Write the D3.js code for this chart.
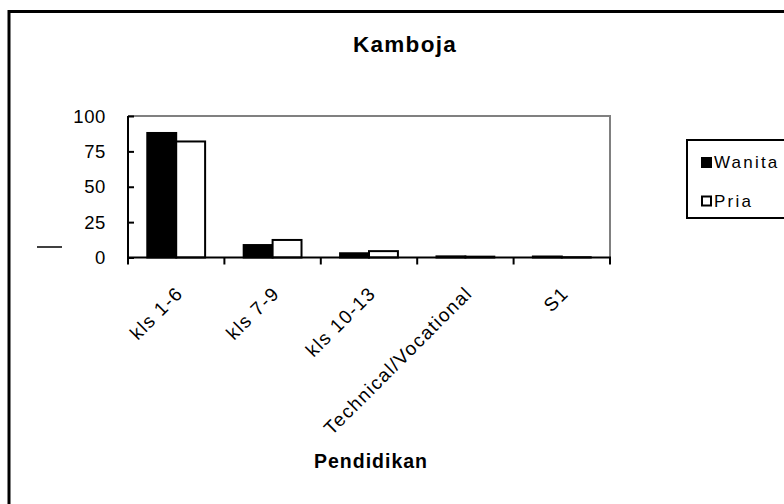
<!DOCTYPE html>
<html>
<head>
<meta charset="utf-8">
<script src="https://cdn.jsdelivr.net/npm/d3@7"></script>
<style>
  body { margin: 0; background: #fff; }
  svg { display: block; font-family: "Liberation Sans", Arial, sans-serif; }
</style>
</head>
<body>
<div id="chart"></div>
<script>
const categories = ["kls 1-6", "kls 7-9", "kls 10-13", "Technical/Vocational", "S1"];
const seriesNames = ["Wanita", "Pria"];
const wanita = [88, 8.8, 3, 0.8, 0.7];
const pria = [82, 12.4, 4.5, 0.6, 0.2];
const yTicks = [0, 25, 50, 75, 100];

const width = 784, height = 504;
const plot = {left: 128, right: 610, top: 116, bottom: 257.5};

const svg = d3.select("#chart").append("svg")
  .attr("width", width)
  .attr("height", height);

// outer frame (runs off the right and bottom edges)
svg.append("rect")
  .attr("x", 9).attr("y", 11.5)
  .attr("width", 900).attr("height", 600)
  .attr("fill", "#fff")
  .attr("stroke", "#000")
  .attr("stroke-width", 3);

const x0 = d3.scaleBand().domain(categories).range([plot.left, plot.right]).padding(0);
const x1 = d3.scaleBand().domain(seriesNames).range([0, x0.bandwidth()])
  .paddingInner(0).paddingOuter(0.667);
const y = d3.scaleLinear().domain([0, 100]).range([plot.bottom, plot.top]);

const rows = categories.map((c, i) => ({cat: c, values: [wanita[i], pria[i]]}));
const fills = {Wanita: "#000", Pria: "#fff"};

// plot frame top/right in gray
svg.append("path")
  .attr("d", `M${plot.left},${plot.top}H${plot.right}V${plot.bottom}`)
  .attr("fill", "none")
  .attr("stroke", "#808080")
  .attr("stroke-width", 2);

// bars
const g = svg.append("g");
g.selectAll("g.cat")
  .data(rows)
  .join("g")
  .attr("class", "cat")
  .attr("transform", d => `translate(${x0(d.cat)},0)`)
  .selectAll("rect")
  .data(d => d.values.map((v, i) => ({name: seriesNames[i], value: v})))
  .join("rect")
  .attr("x", d => x1(d.name))
  .attr("width", x1.bandwidth())
  .attr("y", d => y(d.value))
  .attr("height", d => y(0) - y(d.value))
  .attr("fill", d => fills[d.name])
  .attr("stroke", "#000")
  .attr("stroke-width", 2);

// y axis (ticks point inward)
const yAxis = svg.append("g")
  .attr("transform", `translate(${plot.left},0)`)
  .call(d3.axisRight(y).tickValues(yTicks).tickSize(6).tickFormat(""));
yAxis.select(".domain").attr("stroke-width", 2).attr("d", `M0,${plot.top}V${plot.bottom}`);
yAxis.selectAll(".tick line").attr("stroke-width", 2);

svg.append("g").selectAll("text")
  .data(yTicks)
  .join("text")
  .attr("x", 106)
  .attr("y", d => y(d))
  .attr("dy", "0.36em")
  .attr("text-anchor", "end")
  .attr("font-size", 18.5)
  .attr("letter-spacing", 0.6)
  .text(d => d);

// x axis (ticks outward at band edges)
const xEdges = categories.map(c => x0(c)).concat([plot.right]);
const xAxisG = svg.append("g");
xAxisG.append("line")
  .attr("x1", plot.left - 1).attr("x2", plot.right + 1)
  .attr("y1", plot.bottom).attr("y2", plot.bottom)
  .attr("stroke", "#000").attr("stroke-width", 2);
xAxisG.selectAll("line.tick")
  .data(xEdges)
  .join("line")
  .attr("class", "tick")
  .attr("x1", d => d).attr("x2", d => d)
  .attr("y1", plot.bottom).attr("y2", plot.bottom + 7)
  .attr("stroke", "#000").attr("stroke-width", 2);

xAxisG.selectAll("text")
  .data(categories)
  .join("text")
  .attr("transform", d => `translate(${x0(d) + x0.bandwidth() / 2 + 8},${plot.bottom + 37}) rotate(-45)`)
  .attr("text-anchor", "end")
  .attr("font-size", 19)
  .attr("letter-spacing", 1.4)
  .text(d => d);

// stray mark left of the axis
svg.append("line")
  .attr("x1", 37).attr("x2", 62)
  .attr("y1", 247).attr("y2", 247)
  .attr("stroke", "#000").attr("stroke-width", 1.5);

// titles
svg.append("text")
  .attr("x", 405).attr("y", 52)
  .attr("text-anchor", "middle")
  .attr("font-size", 22.5)
  .attr("font-weight", "bold")
  .attr("letter-spacing", 1.3)
  .text("Kamboja");

svg.append("text")
  .attr("x", 371).attr("y", 468)
  .attr("text-anchor", "middle")
  .attr("font-size", 19.5)
  .attr("font-weight", "bold")
  .attr("letter-spacing", 1)
  .text("Pendidikan");

// legend
const legend = svg.append("g");
legend.append("rect")
  .attr("x", 687).attr("y", 140)
  .attr("width", 200).attr("height", 78)
  .attr("fill", "#fff")
  .attr("stroke", "#000")
  .attr("stroke-width", 2);
const items = legend.selectAll("g.item")
  .data(seriesNames)
  .join("g")
  .attr("class", "item")
  .attr("transform", (d, i) => `translate(0,${i * 38.5})`);
items.append("rect")
  .attr("x", 702).attr("y", 158)
  .attr("width", 9).attr("height", 9)
  .attr("fill", d => fills[d])
  .attr("stroke", "#000")
  .attr("stroke-width", 2);
items.append("text")
  .attr("x", 714).attr("y", 168)
  .attr("font-size", 17)
  .attr("letter-spacing", 2.2)
  .text(d => d);
</script>
</body>
</html>
